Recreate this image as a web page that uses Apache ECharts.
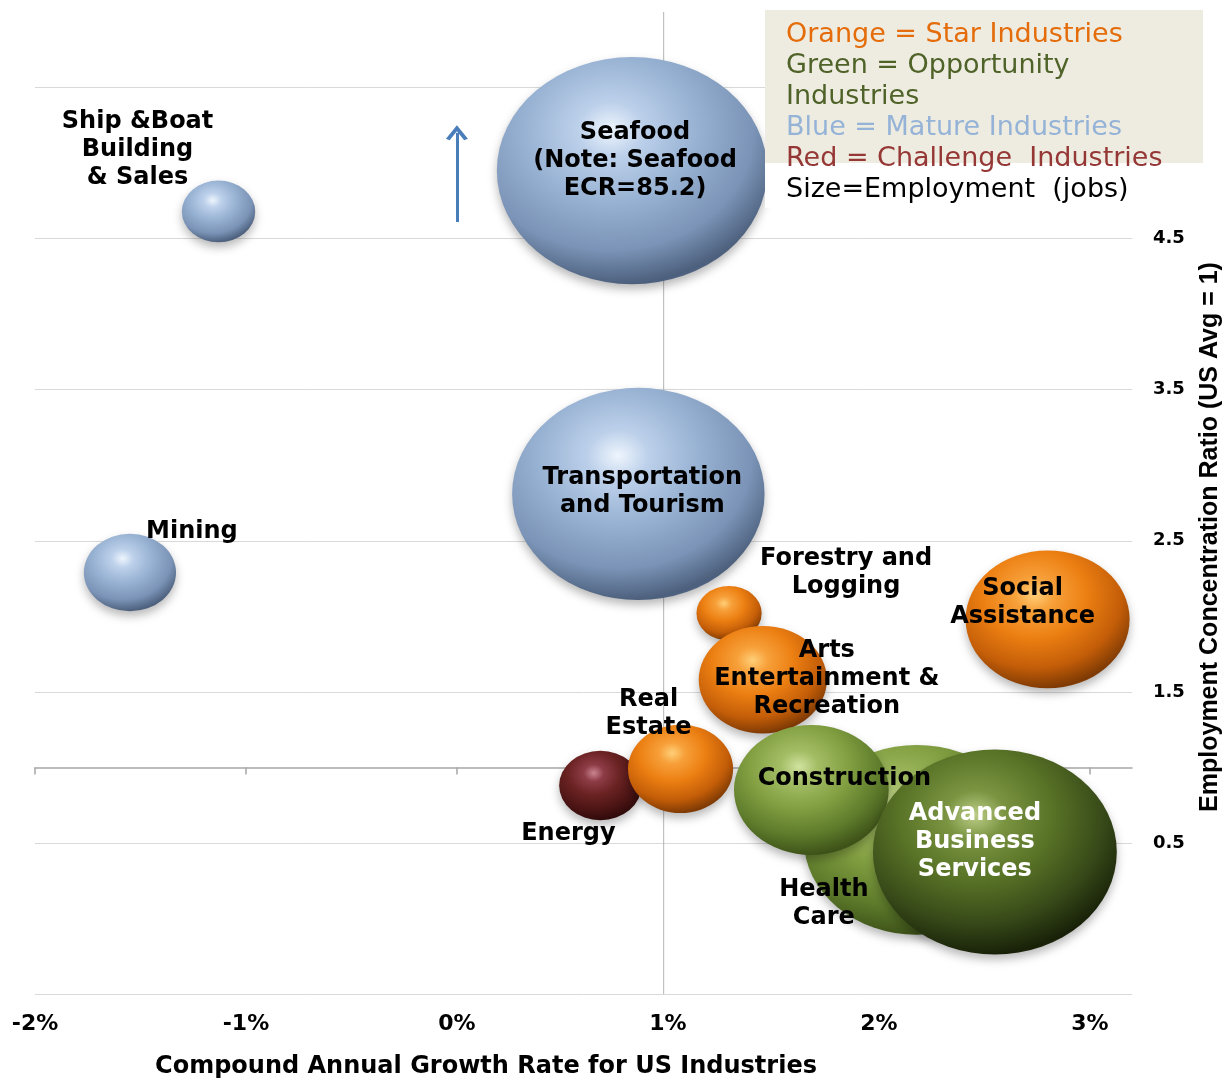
<!DOCTYPE html>
<html><head><meta charset="utf-8">
<script src="https://cdn.jsdelivr.net/npm/echarts/dist/echarts.min.js"></script>
<style>html,body{margin:0;padding:0;background:#fff}#c{width:1230px;height:1080px}</style>
</head><body><div id="c"></div>
<script>
// ---- data ----
const industries = ['Seafood','Transportation and Tourism','Ship & Boat Building & Sales','Mining','Energy','Real Estate','Forestry and Logging','Arts Entertainment & Recreation','Social Assistance','Health Care','Construction','Advanced Business Services'];
const growth = [0.83, 0.86, -1.13, -1.55, 0.68, 1.06, 1.29, 1.45, 2.80, 2.18, 1.68, 2.55];
const ecr    = [4.95, 2.81, 4.68, 2.29, 0.88, 0.99, 2.02, 1.58, 1.98, 0.52, 0.85, 0.44];
const jobs   = [25800, 22500, 1900, 3000, 2400, 3900, 1500, 5800, 9500, 18000, 8450, 21000];
const groups = ['mature','mature','mature','mature','challenge','star','star','star','star','opportunity','opportunity','opportunity'];
const labelText = ['Seafood\n(Note: Seafood\nECR=85.2)','Transportation\nand Tourism','Ship &Boat\nBuilding\n& Sales','Mining','Energy','Real\nEstate','Forestry and\nLogging','Arts\nEntertainment &\nRecreation','Social\nAssistance','Health\nCare','Construction','Advanced\nBusiness\nServices'];
const xTicks = [-2, -1, 0, 1, 2, 3];
const yTicks = [0.5, 1.5, 2.5, 3.5, 4.5, 5.5];
const usAvgGrowth = 0.98;
const arrowFrom = 4.61, arrowTo = 5.2;
const legendLines = ['Orange = Star Industries','Green = Opportunity','Industries','Blue = Mature Industries','Red = Challenge  Industries','Size=Employment  (jobs)'];

// ---- layout / style ----
const labelOffset = [[3,-10],[4,-2],[-81,-62],[62,-41],[-32,48],[-32,-55],[117,-41],[64,-1],[-25,-17],[-93,64],[33,-11],[-20,-10]];
const legendColors = ['#e46c0a','#4f6228','#4f6228','#95b3d7','#953735','#000000'];
const palettes = {
  mature: ['#eef5fd','#bcd0ea','#98b2d3','#7a93b6','#4c5f7c','#6a83a5'],
  star: ['#ffcf78','#f7a03a','#ec7f12','#c35d08','#7e3a04','#a8520c'],
  opportunity: ['#d2e3a0','#a3bd65','#83a042','#5c7a2a','#3d5118','#4f6923'],
  opportunityDark: ['#bccd86','#7a9442','#587226','#364818','#182108','#243210'],
  challenge: ['#c98490','#8d3c46','#6a2222','#4c1414','#300a0a','#441414']
};
function grad(key) {
  const c = palettes[key];
  return new echarts.graphic.RadialGradient(0.42, 0.32, 0.76, [
    {offset: 0, color: c[0]}, {offset: 0.16, color: c[1]}, {offset: 0.42, color: c[2]},
    {offset: 0.7, color: c[3]}, {offset: 0.9, color: c[4]}, {offset: 1, color: c[5]}
  ]);
}
const ellipse = 'path://M0,50A50,50,0,1,1,100,50A50,50,0,1,1,0,50Z';
const chevron = 'path://M0,9L5,0L10,9L8.3,10L5,3.9L1.7,10Z';

const X_MIN = -2, X_MAX = 3.2, Y_MIN = -0.5, Y_MAX = 6;
const G = {left: 35, right: 98, top: 12, bottom: 86};
const gridH = 1080 - G.top - G.bottom;
const axisAtOne = -gridH * (1 - Y_MIN) / (Y_MAX - Y_MIN);

const bubbleData = industries.map((n, i) => ({
  name: n,
  value: [growth[i], ecr[i], jobs[i]],
  itemStyle: {color: grad(n === 'Advanced Business Services' ? 'opportunityDark' : groups[i])},
  label: {formatter: labelText[i], offset: labelOffset[i], color: n === 'Advanced Business Services' ? '#ffffff' : '#000000'}
}));

const chart = echarts.init(document.getElementById('c'), null, {renderer: 'canvas'});
chart.setOption({
  animation: false,
  backgroundColor: '#ffffff',
  grid: {left: G.left, right: G.right, top: G.top, bottom: G.bottom, containLabel: false},
  xAxis: [{
    type: 'value', min: X_MIN, max: X_MAX, interval: 1, position: 'bottom',
    axisLine: {show: false, onZero: false}, axisTick: {show: false}, splitLine: {show: false},
    axisLabel: {customValues: xTicks, formatter: v => Math.round(v) + '%', margin: 19,
      fontFamily: 'DejaVu Sans', fontWeight: 'bold', fontSize: 22, lineHeight: 22, color: '#000'}
  }, {
    type: 'value', min: X_MIN, max: X_MAX, interval: 1, position: 'bottom', offset: axisAtOne,
    axisLine: {show: true, onZero: false, lineStyle: {color: '#a6a6a6', width: 1.5}},
    axisTick: {show: true, length: 7, customValues: xTicks, lineStyle: {color: '#a6a6a6', width: 1.5}},
    axisLabel: {show: false}, splitLine: {show: false}
  }],
  yAxis: {
    type: 'value', min: Y_MIN, max: Y_MAX, interval: 1, position: 'right',
    axisLine: {show: false, onZero: false}, axisTick: {show: false},
    splitLine: {show: true, showMaxLine: false, lineStyle: {color: '#d9d9d9', width: 1}},
    axisLabel: {customValues: yTicks, formatter: v => v.toFixed(1), margin: 21,
      fontFamily: 'DejaVu Sans', fontWeight: 'bold', fontSize: 18, color: '#000'}
  },
  series: [{
    type: 'line', z: 1, silent: true, symbol: 'none',
    data: [[usAvgGrowth, Y_MIN], [usAvgGrowth, Y_MAX]],
    lineStyle: {color: '#b5b5b5', width: 1},
    markLine: {
      silent: true, animation: false, symbol: 'none', label: {show: false},
      emphasis: {disabled: true},
      data: [
        [{coord: [0, arrowFrom], symbol: 'none', lineStyle: {color: '#4a7ebb', width: 3, type: 'solid'}},
         {coord: [0, arrowTo], symbol: chevron, symbolSize: [22, 15]}]
      ]
    }
  }, {
    type: 'scatter', z: 3, silent: true,
    symbol: ellipse,
    symbolSize: v => { const d = Math.sqrt(2 * v[2]); return [d * 1.19, d]; },
    itemStyle: {shadowBlur: 10, shadowColor: 'rgba(0,0,0,0.28)', shadowOffsetY: 5, opacity: 1},
    label: {show: true, position: 'inside', fontFamily: 'DejaVu Sans', fontWeight: 'bold',
      fontSize: 24, lineHeight: 28, align: 'center'},
    emphasis: {disabled: true},
    data: bubbleData
  }],
  graphic: [
    {type: 'rect', x: 765, y: 10, shape: {width: 438, height: 153}, style: {fill: '#eeece1'}, z: 100},
    {type: 'rect', x: 765, y: 163, shape: {width: 438, height: 45}, style: {fill: '#ffffff'}, z: 100},
    ...legendLines.map((t, i) => ({
      type: 'text', x: 786, y: 35 + i * 31, z: 101,
      style: {text: t, fill: legendColors[i], fontFamily: 'DejaVu Sans', fontSize: 27, verticalAlign: 'middle', align: 'left'}
    })),
    {type: 'text', x: 486, y: 1067, z: 101,
      style: {text: 'Compound Annual Growth Rate for US Industries', fill: '#000', fontFamily: 'DejaVu Sans', fontWeight: 'bold', fontSize: 24, align: 'center', verticalAlign: 'middle'}},
    {type: 'text', x: 1210, y: 537, rotation: Math.PI / 2, z: 101,
      style: {text: 'Employment Concentration Ratio (US Avg = 1)', fill: '#000', fontFamily: 'Liberation Sans', fontWeight: 'bold', fontSize: 25, align: 'center', verticalAlign: 'middle'}}
  ]
});
</script>
</body></html>
